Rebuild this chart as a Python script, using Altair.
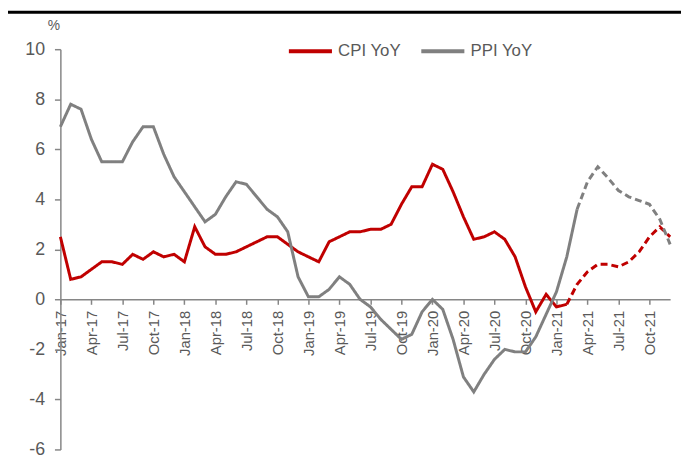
import json
import altair as alt
import pandas as pd

# ---------------- data ----------------
tick_labels = ["Jan-17", "Apr-17", "Jul-17", "Oct-17", "Jan-18", "Apr-18", "Jul-18",
               "Oct-18", "Jan-19", "Apr-19", "Jul-19", "Oct-19", "Jan-20", "Apr-20",
               "Jul-20", "Oct-20", "Jan-21", "Apr-21", "Jul-21", "Oct-21"]

# monthly, Jan-17 .. Feb-21
cpi_actual = [2.5, 0.8, 0.9, 1.2, 1.5, 1.5, 1.4, 1.8, 1.6, 1.9, 1.7, 1.8,
              1.5, 2.9, 2.1, 1.8, 1.8, 1.9, 2.1, 2.3, 2.5, 2.5, 2.2, 1.9,
              1.7, 1.5, 2.3, 2.5, 2.7, 2.7, 2.8, 2.8, 3.0, 3.8, 4.5, 4.5,
              5.4, 5.2, 4.3, 3.3, 2.4, 2.5, 2.7, 2.4, 1.7, 0.5, -0.5, 0.2,
              -0.3, -0.2]
# Feb-21 .. Dec-21 (forecast)
cpi_forecast = [-0.2, 0.6, 1.1, 1.4, 1.4, 1.3, 1.5, 1.9, 2.5, 2.9, 2.5]

# monthly, Jan-17 .. Mar-21
ppi_actual = [6.9, 7.8, 7.6, 6.4, 5.5, 5.5, 5.5, 6.3, 6.9, 6.9, 5.8, 4.9,
              4.3, 3.7, 3.1, 3.4, 4.1, 4.7, 4.6, 4.1, 3.6, 3.3, 2.7, 0.9,
              0.1, 0.1, 0.4, 0.9, 0.6, 0.0, -0.3, -0.8, -1.2, -1.6, -1.4, -0.5,
              0.0, -0.4, -1.6, -3.1, -3.7, -3.0, -2.4, -2.0, -2.1, -2.1, -1.5, -0.6,
              0.3, 1.7, 3.6]
# Mar-21 .. Dec-21 (forecast)
ppi_forecast = [3.6, 4.7, 5.3, 4.85, 4.35, 4.1, 3.95, 3.8, 3.2, 2.2]

series_names = ["CPI YoY", "PPI YoY"]
series_colors = ["#C00000", "#808080"]

rows = []
for name, act, fc in [("CPI YoY", cpi_actual, cpi_forecast),
                      ("PPI YoY", ppi_actual, ppi_forecast)]:
    for i, v in enumerate(act):
        rows.append({"m": i, "v": v, "s": name, "t": "actual"})
    start = len(act) - 1
    for j, v in enumerate(fc):
        rows.append({"m": start + j, "v": v, "s": name, "t": "forecast"})
df = pd.DataFrame(rows)

# ---------------- layout ----------------
W, H = 617, 405
PAD_L, PAD_T, PAD_R, PAD_B = 53, 39, 11, 9
YMIN, YMAX = -6, 10
x_axis_offset = -H * (0 - YMIN) / (YMAX - YMIN)

AXIS_COLOR = "#868686"
LABEL_COLOR = "#595959"
FONT = "Liberation Sans"

label_expr = json.dumps(tick_labels) + "[round(datum.value / 3)]"

lines = alt.Chart(df).mark_line(strokeWidth=3).encode(
    x=alt.X("m:Q",
            scale=alt.Scale(domain=[0, 59], nice=False, zero=False),
            axis=alt.Axis(values=list(range(0, 60, 3)), labelExpr=label_expr,
                          labelAngle=-90, offset=x_axis_offset, grid=False, title=None,
                          domainColor=AXIS_COLOR, tickColor=AXIS_COLOR, domainWidth=1.5,
                          tickWidth=1.5, tickSize=5, labelPadding=6, labelFontSize=15,
                          labelColor=LABEL_COLOR, labelFont=FONT, labelOverlap=False)),
    y=alt.Y("v:Q",
            scale=alt.Scale(domain=[YMIN, YMAX], nice=False),
            axis=alt.Axis(values=list(range(YMIN, YMAX + 1, 2)), grid=False,
                          labelExpr="toString(datum.value)",
                          title="%", titleAngle=0, titleX=-7, titleY=-17,
                          titleFontSize=14, titleFontWeight="normal",
                          titleColor=LABEL_COLOR, titleFont=FONT, titleAlign="center",
                          domainColor=AXIS_COLOR, tickColor=AXIS_COLOR, domainWidth=1.5,
                          tickWidth=1.5, tickSize=6, labelPadding=10, labelFontSize=18,
                          labelColor=LABEL_COLOR, labelFont=FONT)),
    color=alt.Color("s:N",
                    scale=alt.Scale(domain=series_names, range=series_colors),
                    legend=alt.Legend(title=None, orient="none", direction="horizontal",
                                      legendX=229, legendY=-22, symbolType="stroke",
                                      symbolSize=1900, symbolStrokeWidth=4,
                                      labelFontSize=17, labelFont=FONT,
                                      labelColor=LABEL_COLOR, labelOffset=4,
                                      columnPadding=12)),
    strokeDash=alt.StrokeDash("t:N",
                              scale=alt.Scale(domain=["actual", "forecast"],
                                              range=[[1, 0], [7, 4]]),
                              legend=None),
    order="m:Q",
)

top_rule = alt.Chart(pd.DataFrame({"k": [0]})).mark_rule(color="black", strokeWidth=3).encode(
    x=alt.value(-PAD_L), x2=alt.value(W + PAD_R), y=alt.value(-PAD_T + 1.5)
)

chart = alt.layer(top_rule, lines).properties(
    width=W, height=H,
    autosize=alt.AutoSizeParams(type="none"),
    padding={"left": PAD_L, "top": PAD_T, "right": PAD_R, "bottom": PAD_B},
).configure_view(stroke=None)

chart.save("out.html", embed_options={"renderer": "svg", "actions": False})
